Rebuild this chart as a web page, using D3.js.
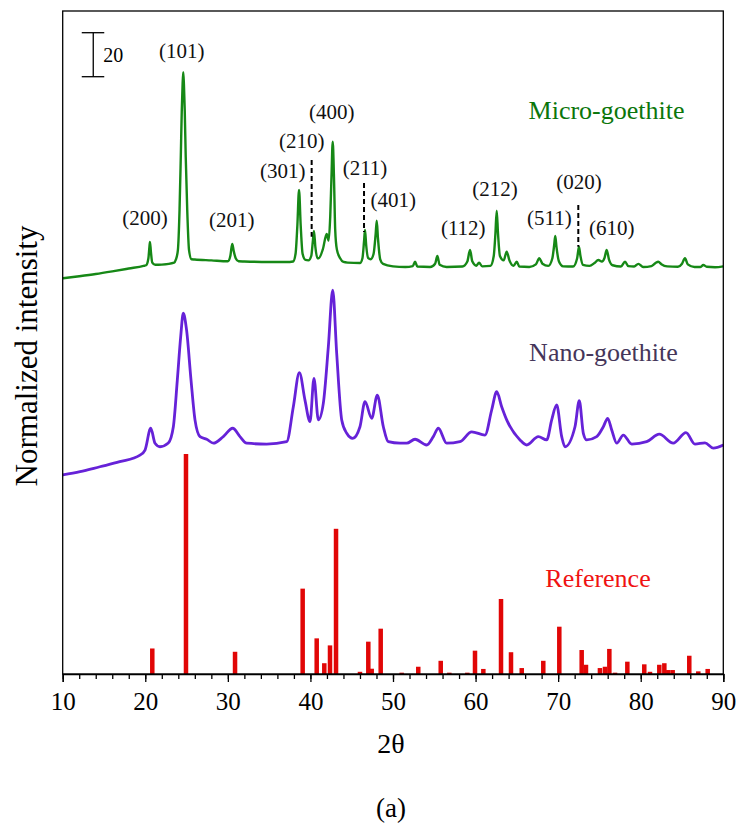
<!DOCTYPE html>
<html>
<head>
<meta charset="utf-8">
<script src="https://cdn.jsdelivr.net/npm/d3@7"></script>
<style>
  html, body { margin: 0; padding: 0; background: #fff; }
</style>
</head>
<body>
<svg id="chart" width="737" height="831" font-family="'Liberation Serif', Tinos, 'Times New Roman', 'DejaVu Serif', serif"></svg>
<script>
// ---- Data: XRD patterns, [2θ (deg), normalized intensity] ----
const microPattern = [
  [10,-0.1],[12,0.8],[14,1.8],[16,3],[18,4.3],[19.8,5.5],
  [20.1,5.8],[20.38,9],[20.5,14],[20.57,16.4],[20.68,12],[20.85,7],[21.2,6],
  [22,6.1],[23.5,7],[23.7,8.3],[23.95,12.7],[24.15,31],[24.3,55],[24.42,76],[24.52,88],[24.6,93.6],
  [24.68,88],[24.78,76],[24.9,55],[25.08,31],[25.3,12.7],[25.6,8.5],[26,8.4],[28,8],
  [30,7.6],[30.3,10],[30.45,14],[30.54,15.5],[30.7,12.5],[30.95,9],[31.3,7.6],
  [32,7.5],[35,7.3],[37.5,7.3],
  [37.9,7.5],[38.2,11],[38.42,24],[38.62,40],[38.82,24],[39.05,11],[39.4,8.2],
  [39.75,8],[40.1,10],[40.3,17],[40.43,21.4],[40.6,14],[40.85,9],[41.0,9],
  [41.5,13],[41.97,20],[42.2,17],[42.4,28],[42.55,46],[42.7,62],[42.85,46],[43.0,22],[43.2,13],[43.6,9],[44.0,7.3],
  [44.5,7],[46.0,6.8],[46.3,9],[46.5,17],[46.61,21.8],[46.75,15],[47.0,9],[47.3,8.5],
  [47.65,11],[47.9,20],[48.03,26],[48.18,18],[48.45,8.5],[48.8,6.4],[50,5.3],
  [51.5,5],[52.4,5.4],[52.67,7.4],[52.95,5.2],[54.5,5],[55.1,6.5],[55.37,10],[55.65,6],[56.5,5],
  [58.4,5.2],[59.0,7.5],[59.33,12.7],[59.6,7.6],[60.1,5.6],[60.42,7],[60.8,5.3],[61.8,5.5],
  [62.2,10],[62.4,20],[62.56,30.6],[62.72,20],[62.95,10],[63.4,8],[63.77,12],[64.1,8],[64.6,5.5],
  [64.98,7.4],[65.3,5.2],[66.5,5],[67.3,6.2],[67.72,9],[68.1,6.5],[68.8,5.5],
  [69.3,9],[69.52,15],[69.65,19.1],[69.8,14],[70.1,7.5],[70.6,5.3],[71.8,5.2],
  [72.3,9],[72.52,14.2],[72.7,10],[73.0,6],[73.8,5.5],[74.4,6.8],[74.86,8.2],[75.3,7.5],
  [75.6,9],[75.88,12.7],[76.15,8.5],[76.6,5.8],[77.6,5.2],[78.1,7.4],[78.5,5.4],[79.2,5.2],
  [79.71,6.4],[80.3,5],[81.3,5.4],[81.8,6.8],[82.13,7.4],[82.5,6.3],[83.2,5.3],[84.5,5.1],
  [85.0,6.5],[85.36,9],[85.7,6.2],[86.5,5],[87.2,5],[87.58,5.9],[88.0,5.1],[89.0,4.9],[90,5.3]
];

const nanoPattern = [
  [10,0.5],[12.1,1.95],[14.5,4.2],[16.9,6.5],[19.36,9.5],[19.97,11.8],[20.66,21.7],[21.18,14.9],
  [21.78,13.3],[22.79,15],[23.4,22.4],[23.88,43.6],[24.29,63.3],[24.6,74],[25.0,66.4],[25.54,43.6],
  [26.02,25.5],[26.63,17.9],[27.44,16.7],[28.25,14.9],[29.45,17.9],[30.59,21.7],[31.47,17.9],
  [32.28,14.9],[34.7,14.5],[37.13,15.6],[37.93,31.5],[38.66,47],[39.34,34.5],[39.95,24.7],
  [40.43,44.4],[40.96,25.5],[41.56,33],[42.17,58.8],[42.7,84.5],[43.18,55.8],[43.79,25.5],
  [44.4,19.4],[45.12,17.1],[46.0,22.4],[46.61,33.8],[47.42,26.2],[48.1,36.8],[48.83,22.4],
  [49.43,15.6],[50.85,14.9],[51.66,14.9],[52.67,16.7],[54.08,14.1],[54.88,17.9],[55.49,21.7],
  [56.5,14.9],[58.11,15.6],[59.53,20.1],[61.14,18.6],[61.95,30],[62.56,38.3],[63.16,31.5],
  [63.77,25.5],[65.38,16.4],[66.19,14.1],[67.6,17.9],[68.61,16.4],[69.22,25.5],[69.82,32.3],
  [70.43,17.9],[70.83,13.3],[72.04,22.4],[72.56,34.2],[73.05,19.4],[73.46,16.4],[74.67,17.9],
  [75.47,22.4],[76.0,26.2],[76.49,20.9],[77.09,14.9],[77.89,18.6],[78.91,14.5],[80.72,15.6],
  [82.25,19],[83.94,14.9],[85.48,19.7],[86.57,14.5],[87.78,15.1],[88.79,12.7],[90,14.1]
];

// Reference (standard) pattern: line positions and relative intensities
const refPositions = [20.85,24.93,30.87,39.06,40.76,41.68,42.37,43.1,46.0,47.01,47.42,48.51,
  51.05,53.06,55.78,56.82,59.0,59.93,60.94,63.08,64.29,65.59,68.2,70.14,72.85,73.37,75.06,
  75.67,76.2,76.89,78.38,80.43,81.12,82.25,82.86,83.34,83.87,85.88,86.97,88.11];
const refIntensities = [11.6,100,10.1,38.8,16.2,4.9,13,66,1,14.7,2.4,20.6,
  0.6,3.3,6,0.6,0.6,10.6,2.3,34.1,9.9,2.7,6,21.5,10.9,4.2,2.7,
  3.3,11.4,0.6,5.6,4.4,1,4.2,4.9,1.8,1.8,8.3,1.2,2.3];

// Vertical stacking offsets of the patterns
const microOffset = 180;
const nanoOffset = 90;

// Miller index labels on the micro pattern: [text, 2θ, intensity]
const hklLabels = [
  ["(200)",19.98,23.9],["(101)",24.41,99.8],["(201)",30.47,23.2],["(301)",36.64,45.3],
  ["(210)",38.94,58.9],["(400)",42.58,72.5],["(211)",46.61,46.6],["(401)",50.03,32.3],
  ["(112)",58.51,19.7],["(212)",62.35,37.5],["(511)",68.93,24.2],["(020)",72.53,40.6],
  ["(610)",76.49,19.4]
];
// Dashed markers for weak reflections: [2θ, from, to]
const hklMarkers = [[40.15,18.8,53.6],[46.49,20.9,43.2],[72.44,14.2,33.2]];

const xTicks = [10,20,30,40,50,60,70,80,90];
const scaleBarValue = 20;

// ---- Layout ----
const svg = d3.select("#chart");
const serif = "'Liberation Serif', Tinos, 'Times New Roman', 'DejaVu Serif', serif";
const plotL = 62.7, plotR = 723.3, plotT = 11, plotB = 674;

const x = d3.scaleLinear().domain([10, 90]).range([plotL, plotR]);
const y = d3.scaleLinear().domain([0, (plotB - plotT) / 2.2]).range([plotB, plotT]);

// Reference bars
const barW = 4.5;
svg.append("g").selectAll("rect")
  .data(refPositions.map((p, i) => [p, refIntensities[i]]))
  .join("rect")
  .attr("x", d => x(d[0]) - barW / 2)
  .attr("y", d => y(d[1]))
  .attr("width", barW)
  .attr("height", d => y(0) - y(d[1]))
  .attr("fill", "#e10606");

// Patterns
const lineFor = off => d3.line()
  .x(d => x(d[0]))
  .y(d => y(off + d[1]))
  .curve(d3.curveMonotoneX);

svg.append("path").datum(nanoPattern)
  .attr("d", lineFor(nanoOffset))
  .attr("fill", "none").attr("stroke", "#6622d8")
  .attr("stroke-width", 2.8).attr("stroke-linejoin", "round");

svg.append("path").datum(microPattern)
  .attr("d", lineFor(microOffset))
  .attr("fill", "none").attr("stroke", "#168816")
  .attr("stroke-width", 2.4).attr("stroke-linejoin", "round");

// Dashed markers
svg.append("g").selectAll("line").data(hklMarkers).join("line")
  .attr("x1", d => x(d[0])).attr("x2", d => x(d[0]))
  .attr("y1", d => y(microOffset + d[2])).attr("y2", d => y(microOffset + d[1]))
  .attr("stroke", "#000").attr("stroke-width", 2)
  .attr("stroke-dasharray", "5,3");

// hkl labels
svg.append("g").selectAll("text").data(hklLabels).join("text")
  .attr("x", d => x(d[1])).attr("y", d => y(microOffset + d[2]))
  .attr("text-anchor", "middle").attr("font-size", 21).attr("fill", "#111")
  .attr("font-family", serif)
  .text(d => d[0]);

// Pattern names
svg.append("text").attr("x", x(75.86)).attr("y", y(microOffset + 72.1))
  .attr("text-anchor", "middle").attr("font-size", 26).attr("fill", "#0b760b")
  .attr("font-family", serif).text("Micro-goethite");
svg.append("text").attr("x", x(75.49)).attr("y", y(nanoOffset + 52.3))
  .attr("text-anchor", "middle").attr("font-size", 26).attr("fill", "#45365a")
  .attr("font-family", serif).text("Nano-goethite");
svg.append("text").attr("x", x(74.83)).attr("y", y(39.4))
  .attr("text-anchor", "middle").attr("font-size", 26).attr("fill", "#f01212")
  .attr("font-family", serif).text("Reference");

// Intensity scale bar
const sbX = x(13.7), sbBottom = y(271.5), sbTop = y(271.5 + scaleBarValue);
const sb = svg.append("g").attr("stroke", "#000").attr("stroke-width", 1.3);
sb.append("line").attr("x1", sbX).attr("x2", sbX).attr("y1", sbTop).attr("y2", sbBottom);
sb.append("line").attr("x1", sbX - 11.5).attr("x2", sbX + 11).attr("y1", sbTop).attr("y2", sbTop);
sb.append("line").attr("x1", sbX - 11.5).attr("x2", sbX + 11).attr("y1", sbBottom).attr("y2", sbBottom);
svg.append("text").attr("x", sbX + 10).attr("y", (sbTop + sbBottom) / 2 + 7)
  .attr("font-size", 20).attr("fill", "#000").attr("font-family", serif).text(scaleBarValue);

// Frame
svg.append("rect").attr("x", plotL).attr("y", plotT)
  .attr("width", plotR - plotL).attr("height", plotB - plotT)
  .attr("fill", "none").attr("stroke", "#000").attr("stroke-width", 1.3);

// X axis: minor and major ticks
const minorAxis = d3.axisBottom(x).tickValues(d3.range(10, 91, 2)).tickSize(5).tickFormat("");
const gMinor = svg.append("g").attr("transform", `translate(0,${plotB})`).call(minorAxis);
gMinor.select(".domain").remove();
gMinor.selectAll("line").attr("stroke-width", 1.3);

const majorAxis = d3.axisBottom(x).tickValues(xTicks).tickSize(8).tickPadding(10);
const gMajor = svg.append("g").attr("transform", `translate(0,${plotB})`).call(majorAxis);
gMajor.attr("font-family", serif).attr("font-size", 25);
gMajor.select(".domain").attr("stroke-width", 1.3);
gMajor.selectAll("line").attr("stroke-width", 1.3);
gMajor.selectAll("text").attr("fill", "#000");

// Axis titles
svg.append("text").attr("x", (plotL + plotR) / 2 - 2).attr("y", 753)
  .attr("text-anchor", "middle").attr("font-size", 28).attr("fill", "#000")
  .attr("font-family", serif).text("2θ");
svg.append("text").attr("transform", "translate(37,356) rotate(-90)")
  .attr("text-anchor", "middle").attr("font-size", 31).attr("fill", "#000")
  .attr("font-family", serif).text("Normalized intensity");
svg.append("text").attr("x", (plotL + plotR) / 2 - 2).attr("y", 817)
  .attr("text-anchor", "middle").attr("font-size", 27).attr("fill", "#000")
  .attr("font-family", serif).text("(a)");
</script>
</body>
</html>
